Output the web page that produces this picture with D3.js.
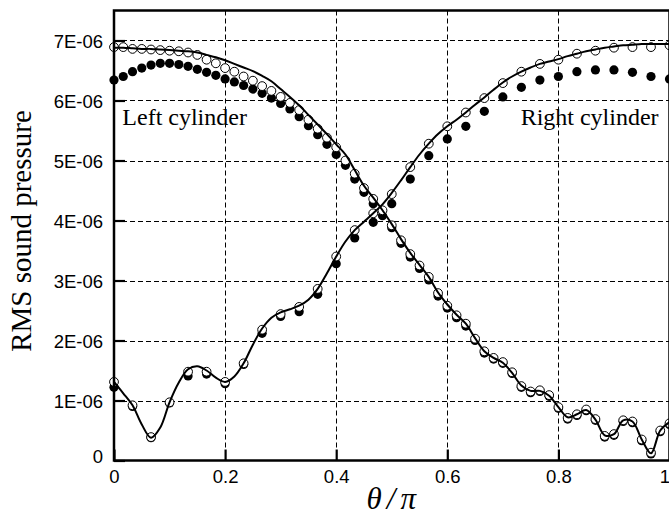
<!DOCTYPE html>
<html>
<head>
<meta charset="utf-8">
<script src="https://cdn.jsdelivr.net/npm/d3@7"></script>
<style>
  html, body { margin: 0; padding: 0; background: #fff; }
  svg { display: block; }
</style>
</head>
<body>
<svg id="chart" width="669" height="516"></svg>
<script>
// Values are in units of 1E-06 (RMS sound pressure), x is θ/π.
const UNIT = 1e-6;

// Tick positions and labels
const xTicks = [0, 0.2, 0.4, 0.6, 0.8, 1];
const xTickLabels = ["0", "0.2", "0.4", "0.6", "0.8", "1"];
const yTicks = [0, 1, 2, 3, 4, 5, 6, 7];
const yTickLabels = ["0", "1E-06", "2E-06", "3E-06", "4E-06", "5E-06", "6E-06", "7E-06"];

// Left cylinder: 61 samples at θ/π = i/60
const leftLine = [6.88, 6.88, 6.87, 6.86, 6.86, 6.85, 6.84, 6.83, 6.82, 6.80,
  6.76, 6.72, 6.67, 6.61, 6.55, 6.49, 6.41, 6.32, 6.19, 6.06,
  5.92, 5.76, 5.60, 5.44, 5.27, 5.10, 4.84, 4.58, 4.38, 4.17,
  3.94, 3.69, 3.46, 3.26, 3.06, 2.80, 2.60, 2.43, 2.28, 2.04,
  1.82, 1.71, 1.63, 1.46, 1.25, 1.16, 1.16, 1.08, 0.89, 0.72,
  0.77, 0.84, 0.68, 0.42, 0.44, 0.67, 0.65, 0.35, 0.12, 0.50, 0.64];
const leftOpen = [6.89, 6.89, 6.86, 6.86, 6.85, 6.84, 6.83, 6.82, 6.80, 6.76,
  6.68, 6.62, 6.54, 6.48, 6.40, 6.33, 6.24, 6.16, 6.06, 5.96,
  5.84, 5.68, 5.53, 5.38, 5.22, 5.00, 4.78, 4.54, 4.36, 4.17,
  3.92, 3.67, 3.44, 3.25, 3.06, 2.79, 2.58, 2.42, 2.28, 2.03,
  1.82, 1.71, 1.64, 1.47, 1.24, 1.15, 1.17, 1.09, 0.89, 0.71,
  0.77, 0.85, 0.69, 0.41, 0.44, 0.67, 0.65, 0.35, 0.13, 0.50, 0.62];
const leftFilled = [6.34, 6.40, 6.48, 6.54, 6.59, 6.62, 6.62, 6.60, 6.57, 6.52,
  6.47, 6.42, 6.36, 6.31, 6.25, 6.19, 6.12, 6.04, 5.95, 5.86,
  5.73, 5.58, 5.43, 5.27, 5.10, 4.92, 4.69, 4.47, 4.28, 4.08,
  3.88, 3.62, 3.39, 3.20, 3.01, 2.74, 2.54, 2.38, 2.24, 2.00,
  1.79, 1.69, 1.62, 1.45, 1.22, 1.13, 1.15, 1.07, 0.87, 0.69,
  0.75, 0.83, 0.67, 0.39, 0.42, 0.65, 0.63, 0.33, 0.11, 0.48, 0.60];

// Right cylinder: curve at θ/π = i/60, symbols at θ/π = j/30
const rightLine = [1.31, 1.12, 0.92, 0.60, 0.38, 0.55, 0.97, 1.30, 1.52, 1.57,
  1.50, 1.38, 1.31, 1.40, 1.62, 1.93, 2.20, 2.38, 2.47, 2.52,
  2.58, 2.68, 2.86, 3.12, 3.40, 3.65, 3.84, 3.98, 4.12, 4.27,
  4.46, 4.67, 4.89, 5.10, 5.28, 5.44, 5.57, 5.68, 5.80, 5.93,
  6.05, 6.18, 6.30, 6.40, 6.48, 6.55, 6.61, 6.65, 6.69, 6.74,
  6.78, 6.82, 6.85, 6.88, 6.90, 6.92, 6.93, 6.94, 6.94, 6.94, 6.94];
const rightOpen = [1.31, 0.92, 0.39, 0.97, 1.48, 1.48, 1.31, 1.62, 2.18, 2.44,
  2.56, 2.86, 3.40, 3.84, 4.12, 4.44, 4.89, 5.28, 5.57, 5.80,
  6.04, 6.29, 6.48, 6.61, 6.68, 6.78, 6.83, 6.88, 6.89, 6.89, 6.92];
const rightFilled = [1.22, 0.90, 0.38, 0.96, 1.41, 1.44, 1.28, 1.60, 2.12, 2.40,
  2.48, 2.77, 3.28, 3.71, 3.97, 4.28, 4.69, 5.08, 5.36, 5.57,
  5.82, 6.06, 6.22, 6.34, 6.40, 6.48, 6.51, 6.51, 6.47, 6.40, 6.36];

const labelsText = [
  { text: "Left cylinder", x: 0.015, y: 5.6 },
  { text: "Right cylinder", x: 0.732, y: 5.6 }
];

const svg = d3.select("#chart");
const plot = { left: 114, right: 669.5, top: 10.5, bottom: 460.5 };

const x = d3.scaleLinear().domain([0, 1]).range([plot.left, plot.right]);
const y = d3.scaleLinear().domain([0, 7.5 * UNIT]).range([plot.bottom, plot.top]);

const withX = (arr, n) => arr.map((v, i) => ({ x: i / n, v: v * UNIT }));

// Dashed grid
const grid = svg.append("g").attr("stroke", "#000").attr("stroke-width", 1)
  .attr("stroke-dasharray", "5,3").attr("fill", "none");
grid.selectAll("line.h").data(yTicks.filter(t => t > 0)).join("line")
  .attr("class", "h")
  .attr("x1", plot.left).attr("x2", plot.right)
  .attr("y1", d => Math.round(y(d * UNIT)) + 0.5).attr("y2", d => Math.round(y(d * UNIT)) + 0.5);
grid.selectAll("line.v").data(xTicks.filter(t => t > 0 && t < 1)).join("line")
  .attr("class", "v")
  .attr("y1", plot.top).attr("y2", plot.bottom)
  .attr("x1", d => Math.round(x(d)) + 0.5).attr("x2", d => Math.round(x(d)) + 0.5);

// Filled symbols underneath the open symbols
const filled = svg.append("g").attr("fill", "#000");
filled.selectAll("circle.l").data(withX(leftFilled, 60)).join("circle")
  .attr("class", "l").attr("cx", d => x(d.x)).attr("cy", d => y(d.v)).attr("r", 4.6);
filled.selectAll("circle.r").data(withX(rightFilled, 30)).join("circle")
  .attr("class", "r").attr("cx", d => x(d.x)).attr("cy", d => y(d.v)).attr("r", 4.6);

// Open symbols
const open = svg.append("g").attr("fill", "#fff").attr("stroke", "#000").attr("stroke-width", 1);
open.selectAll("circle.l").data(withX(leftOpen, 60)).join("circle")
  .attr("class", "l").attr("cx", d => x(d.x)).attr("cy", d => y(d.v)).attr("r", 4.4);
open.selectAll("circle.r").data(withX(rightOpen, 30)).join("circle")
  .attr("class", "r").attr("cx", d => x(d.x)).attr("cy", d => y(d.v)).attr("r", 4.4);

// Solid curves
const line = d3.line().x(d => x(d.x)).y(d => y(d.v)).curve(d3.curveCatmullRom.alpha(0.5));
svg.append("g").attr("fill", "none").attr("stroke", "#000").attr("stroke-width", 2)
  .selectAll("path").data([withX(leftLine, 60), withX(rightLine, 60)]).join("path")
  .attr("d", line);

// Axes with inward ticks
const tickFont = "'Liberation Sans', Arial, Helvetica, sans-serif";
const yAxis = d3.axisLeft(y)
  .tickValues(yTicks.map(t => t * UNIT))
  .tickFormat((d, i) => yTickLabels[i])
  .tickSizeInner(-11).tickSizeOuter(0).tickPadding(11);
const gy = svg.append("g").attr("transform", `translate(${plot.left},0)`).call(yAxis);

const xAxis = d3.axisBottom(x)
  .tickValues(xTicks)
  .tickFormat((d, i) => xTickLabels[i])
  .tickSizeInner(-11).tickSizeOuter(0).tickPadding(9);
const gx = svg.append("g").attr("transform", `translate(0,${plot.bottom})`).call(xAxis);

[gx, gy].forEach(g => {
  g.select(".domain").remove();
  g.selectAll(".tick line").attr("stroke", "#000").attr("stroke-width", 2.2);
  g.selectAll(".tick text").attr("font-family", tickFont).attr("font-size", 18.5).attr("fill", "#000");
});
gy.selectAll(".tick text").attr("dy", "0.4em");
// the zero label sits a little higher than the others
gy.selectAll(".tick text").filter((d, i) => i === 0).attr("dy", "0.1em");
// keep the last x label inside the page edge
gx.selectAll(".tick text").filter((d, i) => i === xTicks.length - 1)
  .attr("text-anchor", "end").attr("x", 0);

// Frame
svg.append("rect")
  .attr("x", plot.left).attr("y", plot.top)
  .attr("width", plot.right - plot.left).attr("height", plot.bottom - plot.top)
  .attr("fill", "none").attr("stroke", "#000").attr("stroke-width", 2.5);

// In-plot annotations
svg.selectAll("text.anno").data(labelsText).join("text")
  .attr("class", "anno")
  .attr("x", d => x(d.x)).attr("y", d => y(d.y * UNIT))
  .attr("font-family", "'Liberation Serif', 'Times New Roman', serif")
  .attr("font-size", 24).attr("fill", "#000")
  .text(d => d.text);

// Axis titles
svg.append("text")
  .attr("transform", "translate(31,231) rotate(-90)")
  .attr("text-anchor", "middle")
  .attr("font-family", "'Liberation Serif', 'Times New Roman', serif")
  .attr("font-size", 29).attr("fill", "#000")
  .text("RMS sound pressure");

svg.append("text")
  .attr("x", (plot.left + plot.right) / 2 + 2).attr("y", 509)
  .attr("text-anchor", "middle")
  .attr("font-family", "'Liberation Serif', 'Times New Roman', serif")
  .attr("font-style", "italic")
  .attr("font-size", 31).attr("letter-spacing", 5).attr("fill", "#000")
  .text("θ/π");
</script>
</body>
</html>
